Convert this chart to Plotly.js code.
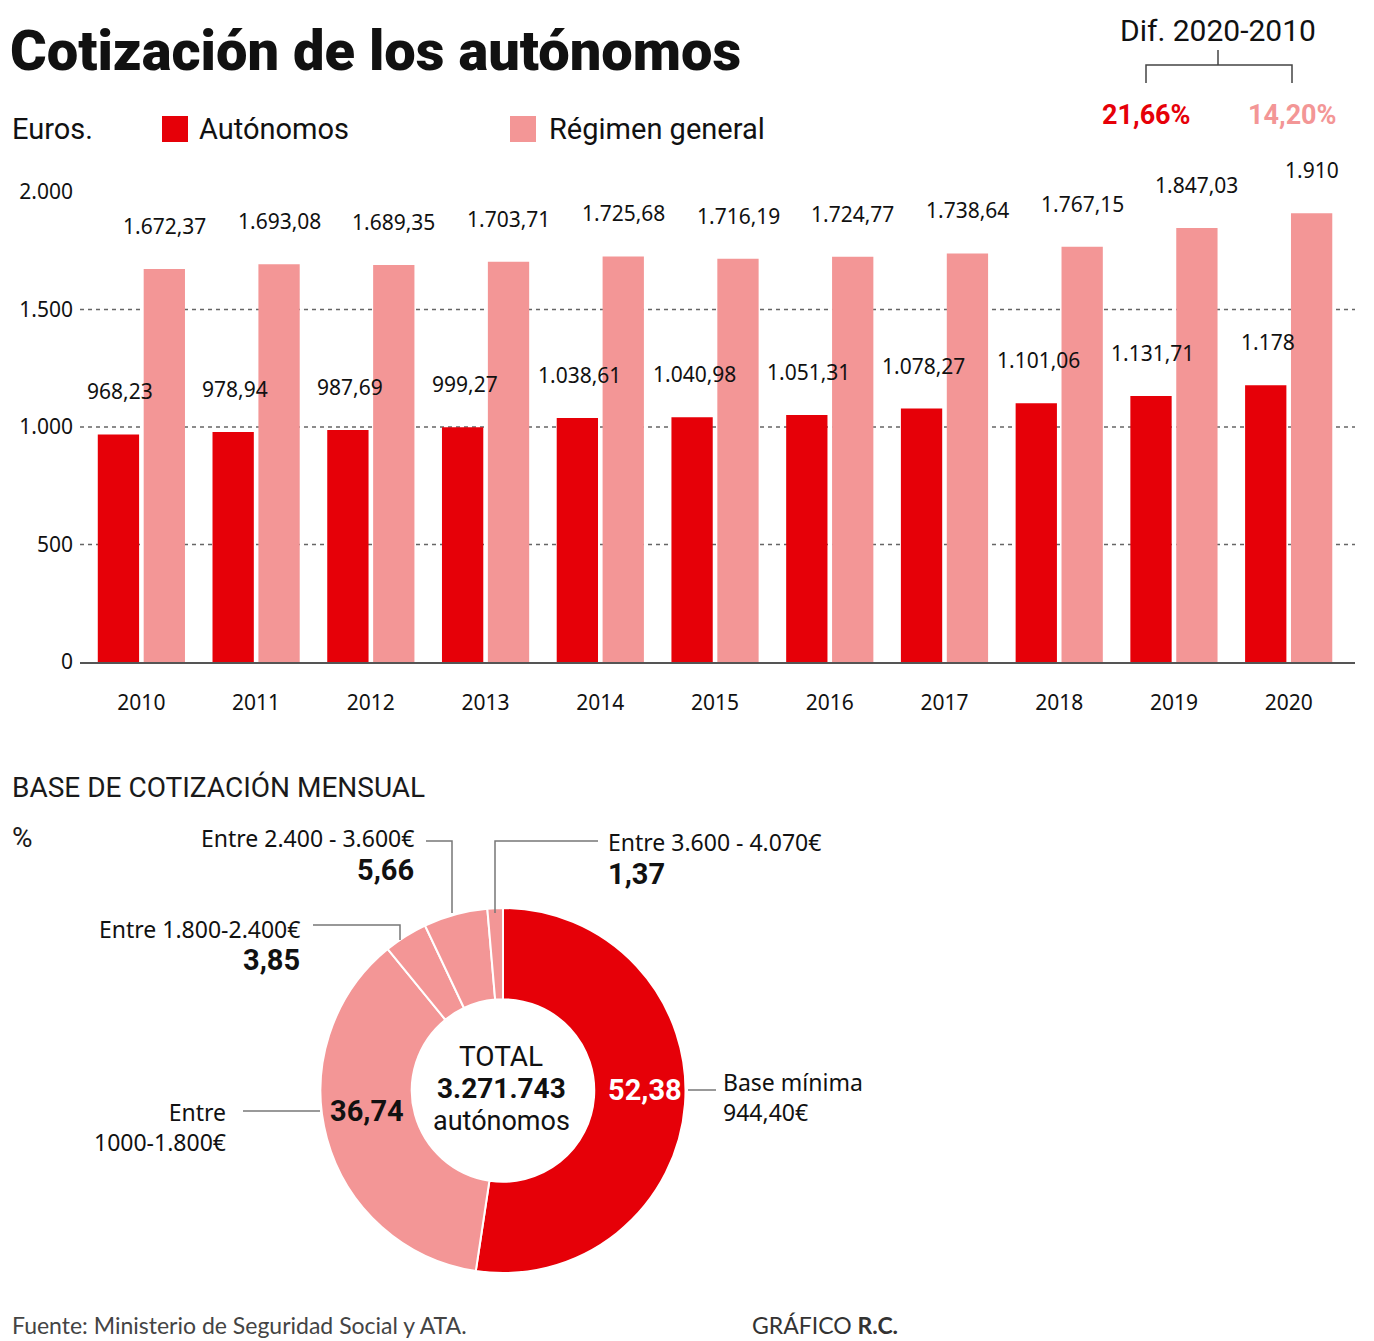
<!DOCTYPE html>
<html>
<head>
<meta charset="utf-8">
<script src="https://cdn.plot.ly/plotly-3.0.1.min.js"></script>
<style>html,body{margin:0;padding:0;background:#fff;}#chart{width:1374px;height:1341px;}</style>
</head>
<body>
<div id="chart"></div>
<script>
// ---------- DATA ----------
const years = ['2010','2011','2012','2013','2014','2015','2016','2017','2018','2019','2020'];
const autonomos = [968.23, 978.94, 987.69, 999.27, 1038.61, 1040.98, 1051.31, 1078.27, 1101.06, 1131.71, 1178];
const regimenGeneral = [1672.37, 1693.08, 1689.35, 1703.71, 1725.68, 1716.19, 1724.77, 1738.64, 1767.15, 1847.03, 1910];
const seriesNames = ['Autónomos', 'Régimen general'];
const yTickVals = [0, 500, 1000, 1500, 2000];
const yTickText = ['0', '500', '1.000', '1.500', '2.000'];
const gridVals = [500, 1000, 1500];
const difTitle = 'Dif. 2020-2010';
const difValues = ['21,66%', '14,20%'];

const baseLabels = ['Base mínima<br>944,40€', 'Entre<br>1000-1.800€', 'Entre 1.800-2.400€', 'Entre 2.400 - 3.600€', 'Entre 3.600 - 4.070€'];
const baseValues = [52.38, 36.74, 3.85, 5.66, 1.37];
const totalAutonomos = '3.271.743';

// ---------- STYLE ----------
const W = 1374, H = 1341;
const RED = '#E60008', PINK = '#F39696';
const NUM_FONT = 'Noto Sans, Open Sans, sans-serif';
const COND_FONT = 'Roboto, Noto Sans, sans-serif';
const px = x => x / W;
const py = y => 1 - y / H;

function fmt(v) {
  const s = Number.isInteger(v) ? String(v) : v.toFixed(2);
  const parts = s.split('.');
  const intPart = parts[0].replace(/\B(?=(\d{3})+(?!\d))/g, '.');
  return parts.length > 1 ? intPart + ',' + parts[1] : intPart;
}

const traces = [
  {type: 'bar', x: years, y: autonomos, name: seriesNames[0], marker: {color: RED}, hoverinfo: 'none', xaxis: 'x', yaxis: 'y'},
  {type: 'bar', x: years, y: regimenGeneral, name: seriesNames[1], marker: {color: PINK}, hoverinfo: 'none', xaxis: 'x', yaxis: 'y'},
  {type: 'pie', labels: baseLabels, values: baseValues, sort: false, direction: 'clockwise', rotation: 0,
   hole: 0.5, textinfo: 'none', hoverinfo: 'none', showlegend: false,
   marker: {colors: baseValues.map((v, i) => i === 0 ? RED : PINK), line: {color: '#ffffff', width: 2}},
   domain: {x: [px(503 - 182.5), px(503 + 182.5)], y: [py(1090.5 + 182.5), py(1090.5 - 182.5)]}}
];

const annotations = [];
const shapes = [];

// bar value labels (category index positions on the category axis)
years.forEach((yr, i) => {
  annotations.push({x: i, y: autonomos[i], xref: 'x', yref: 'y', text: fmt(autonomos[i]), showarrow: false,
    xshift: -21, yshift: 43, xanchor: 'center', yanchor: 'middle', font: {family: NUM_FONT, size: 21, color: '#111'}});
  annotations.push({x: i, y: regimenGeneral[i], xref: 'x', yref: 'y', text: fmt(regimenGeneral[i]), showarrow: false,
    xshift: 23, yshift: 43, xanchor: 'center', yanchor: 'middle', font: {family: NUM_FONT, size: 21, color: '#111'}});
});

// gridlines
gridVals.forEach(v => {
  shapes.push({type: 'line', xref: 'paper', yref: 'y', x0: px(80), x1: px(1355), y0: v, y1: v, layer: 'below',
    line: {color: '#666', width: 1.3, dash: '4px,4px'}});
});

function txt(x, y, text, opts) {
  annotations.push(Object.assign({x: px(x), y: py(y), xref: 'paper', yref: 'paper', text: text, showarrow: false,
    xanchor: 'left', yanchor: 'middle', font: {family: COND_FONT, size: 28, color: '#111'}}, opts || {}));
}
function line(pts, color, width) {
  const d = pts.map((p, i) => (i ? 'L' : 'M') + px(p[0]) + ',' + py(p[1])).join(' ');
  shapes.push({type: 'path', xref: 'paper', yref: 'paper', path: d, line: {color: color || '#777', width: width || 1.5}});
}

// title and legend
txt(8, 51, 'Cotización de los autónomos', {font: {family: COND_FONT, size: 56, weight: 900, color: '#111'}});
txt(10, 129, 'Euros.', {font: {family: COND_FONT, size: 29, color: '#111'}});
shapes.push({type: 'rect', xref: 'paper', yref: 'paper', x0: px(162), x1: px(188), y0: py(142), y1: py(116), fillcolor: RED, line: {width: 0}});
txt(197, 129, seriesNames[0], {font: {family: COND_FONT, size: 29, color: '#111'}});
shapes.push({type: 'rect', xref: 'paper', yref: 'paper', x0: px(510), x1: px(536), y0: py(142), y1: py(116), fillcolor: PINK, line: {width: 0}});
txt(547, 129, seriesNames[1], {font: {family: COND_FONT, size: 29, color: '#111'}});

// Dif bracket
txt(1218, 30, difTitle, {xanchor: 'center', font: {family: COND_FONT, size: 30, color: '#111'}});
line([[1218, 50], [1218, 65]], '#444', 1.5);
line([[1146, 83], [1146, 65], [1292, 65], [1292, 83]], '#444', 1.5);
txt(1146, 115, '<b>' + difValues[0] + '</b>', {xanchor: 'center', font: {family: COND_FONT, size: 27, color: RED}});
txt(1292, 115, '<b>' + difValues[1] + '</b>', {xanchor: 'center', font: {family: COND_FONT, size: 27, color: PINK}});

// second section
txt(10, 787, 'BASE DE COTIZACIÓN MENSUAL', {font: {family: COND_FONT, size: 28, color: '#1a1a1a'}});
txt(10, 837, '%', {font: {family: COND_FONT, size: 28, color: '#1a1a1a'}});

// donut center
txt(501, 1056, 'TOTAL', {xanchor: 'center', font: {family: COND_FONT, size: 28, color: '#111'}});
txt(501, 1088, '<b>' + totalAutonomos + '</b>', {xanchor: 'center', font: {family: COND_FONT, size: 28, color: '#111'}});
txt(501, 1121, 'autónomos', {xanchor: 'center', font: {family: COND_FONT, size: 27, color: '#111'}});

// donut labels
const pctFont = (c) => ({family: COND_FONT, size: 29, color: c});
const lblFont = {family: NUM_FONT, size: 23, color: '#111'};
txt(645, 1090, '<b>' + fmt(baseValues[0]) + '</b>', {xanchor: 'center', font: pctFont('#fff')});
txt(367, 1111, '<b>' + fmt(baseValues[1]) + '</b>', {xanchor: 'center', font: pctFont('#111')});
txt(721, 1097, baseLabels[0], {align: 'left', font: lblFont});
line([[688, 1090], [716, 1090]]);
txt(228, 1127, baseLabels[1], {xanchor: 'right', align: 'right', font: lblFont});
line([[243, 1111], [320, 1111]]);
txt(302, 929, baseLabels[2], {xanchor: 'right', font: lblFont});
txt(302, 960, '<b>' + fmt(baseValues[2]) + '</b>', {xanchor: 'right', font: pctFont('#111')});
line([[313, 925], [400, 925], [400, 940]]);
txt(416, 838, baseLabels[3], {xanchor: 'right', font: lblFont});
txt(416, 870, '<b>' + fmt(baseValues[3]) + '</b>', {xanchor: 'right', font: pctFont('#111')});
line([[426, 841], [452, 841], [452, 913]]);
txt(606, 842, baseLabels[4], {font: lblFont});
txt(606, 874, '<b>' + fmt(baseValues[4]) + '</b>', {font: pctFont('#111')});
line([[495, 913], [495, 841], [598, 841]]);

// footer
txt(10, 1325, 'Fuente: Ministerio de Seguridad Social y ATA.', {font: {family: 'Lato, sans-serif', size: 23, color: '#444'}});
txt(750, 1325, 'GRÁFICO <b>R.C.</b>', {font: {family: 'Lato, sans-serif', size: 23, color: '#333'}});

const layout = {
  width: W, height: H,
  margin: {l: 0, r: 0, t: 0, b: 0},
  paper_bgcolor: '#fff', plot_bgcolor: 'rgba(0,0,0,0)',
  showlegend: false,
  barmode: 'group', bargap: 0.2, bargroupgap: 0.1,
  xaxis: {domain: [px(80), px(1355)], range: [-0.535, 10.578], type: 'category', showgrid: false, zeroline: false,
    showline: true, linecolor: '#555', linewidth: 1.5, ticks: '', ticklabelstandoff: 21,
    tickfont: {family: NUM_FONT, size: 21, color: '#111'}, fixedrange: true},
  yaxis: {domain: [py(662), py(192)], range: [0, 2000], tickvals: yTickVals, ticktext: yTickText,
    showgrid: false, zeroline: false, showline: false, ticks: '', ticklabelstandoff: 6,
    tickfont: {family: NUM_FONT, size: 21, color: '#111'}, fixedrange: true},
  annotations: annotations,
  shapes: shapes
};

Plotly.newPlot('chart', traces, layout, {displayModeBar: false, staticPlot: true});
</script>
</body>
</html>
